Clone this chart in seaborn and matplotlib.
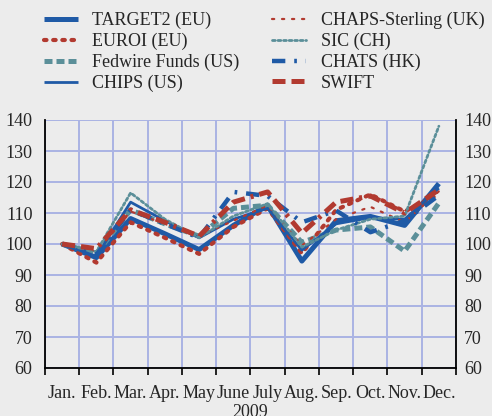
import matplotlib
matplotlib.use("Agg")
import matplotlib.pyplot as plt
from matplotlib import font_manager
import seaborn as sns
import pandas as pd
import numpy as np

months = ["Jan.", "Feb.", "Mar.", "Apr.", "May", "June", "July", "Aug.", "Sep.", "Oct.", "Nov.", "Dec."]
target2 = [100, 95.6, 108.2, 103.3, 98.2, 106, 112.5, 94.5, 107.5, 108.9, 106, 119.5]
euroi = [100, 94, 107, 102, 96.8, 105.5, 111.5, 97, 111, 116, 110.5, 116]
fedwire = [100, 97, 111, 106.5, 102.5, 111.5, 112.5, 100.5, 104.5, 105.5, 97.7, 113.2]
chips = [100, 96, 113.5, 107.5, 102, 108, 111.5, 98, 106.5, 108.5, 108, 118]
chaps = [100, 97.5, 110.5, 106.5, 102.5, 107.5, 112.5, 99.5, 108, 112, 107, 117]
sic = [100, 97.5, 116.5, 108, 102, 109, 113, 99, 104.5, 108, 109, 138]
chats = [100, 96.5, 111, 106.5, 102, 116.8, 115.5, 107, 110.8, 103.8, 107.5, 115.7]
swift = [100, 98.5, 111, 107, 102.5, 113.5, 116.8, 103.5, 113.5, 115.5, 110, 117.5]
year_label = "2009"

BLUE = "#1f5aa6"
RED = "#b23a30"
TEAL = "#5b8f99"
BG = "#ececec"
GRID = "#aab3e3"

series = [
    ("TARGET2 (EU)", target2, BLUE, 3.6, "-"),
    ("EUROI (EU)", euroi, RED, 3.0, (0, (0.6, 1.6))),
    ("Fedwire Funds (US)", fedwire, TEAL, 3.6, (0, (1.6, 0.8))),
    ("CHIPS (US)", chips, BLUE, 2.0, "-"),
    ("CHAPS-Sterling (UK)", chaps, RED, 1.6, (0, (1, 3.5))),
    ("SIC (CH)", sic, TEAL, 2.0, (0, (1, 1))),
    ("CHATS (HK)", chats, BLUE, 3.2, (0, (3, 2, 0.6, 2))),
    ("SWIFT", swift, RED, 3.6, (0, (2.6, 1.2, 2.6, 1.2, 0.6, 1.2))),
]

sns.set_theme(style="white")

# pick a Times-like serif font that is actually installed
font_path = None
for cand in ["Liberation Serif", "Times New Roman", "Nimbus Roman", "DejaVu Serif"]:
    try:
        font_path = font_manager.findfont(font_manager.FontProperties(family=cand), fallback_to_default=False)
        break
    except Exception:
        continue
if font_path is None:
    for f in font_manager.findSystemFonts():
        if "LiberationSerif-Regular" in f:
            font_path = f
            break
if font_path is not None:
    try:
        font_manager.fontManager.addfont(font_path)
    except Exception:
        pass
    fname = font_manager.FontProperties(fname=font_path).get_name()
else:
    fname = "DejaVu Serif"
plt.rcParams["font.family"] = [fname, "DejaVu Serif"]

FS = 13

fig = plt.figure(figsize=(4.92, 4.16), dpi=100, facecolor=BG)
ax = fig.add_axes([45 / 492, 1 - 368 / 416, (456 - 45) / 492, (368 - 120) / 416])
ax.set_facecolor(BG)

x = np.arange(len(months))
handles = []
for name, vals, col, lw, ls in series:
    df = pd.DataFrame({"x": x, "y": vals})
    sns.lineplot(data=df, x="x", y="y", ax=ax, color=col, linewidth=lw, label=name)
    ln = ax.lines[-1]
    ln.set_linestyle(ls)
    if name in ("EUROI (EU)", "CHAPS-Sterling (UK)", "SIC (CH)"):
        ln.set_dash_capstyle("round")
    else:
        ln.set_dash_capstyle("butt")
    ln.set_solid_capstyle("butt")
    handles.append(ln)

ax.get_legend().remove()

ax.set_xlim(-0.5, 11.5)
ax.set_ylim(60, 140)
ax.set_yticks(range(60, 141, 10))
ax.set_xticks(np.arange(-0.5, 12, 1))
ax.set_xticklabels([])
ax.set_xticks(x, minor=True)
ax.set_xticklabels(months, minor=True, fontsize=FS)
ax.tick_params(axis="x", which="major", length=5, width=1.2, color="black", direction="out", bottom=True)
ax.tick_params(axis="x", which="minor", length=0, pad=12)
ax.tick_params(axis="y", length=0, pad=9, labelsize=FS, left=False)
ax.set_xlabel(year_label, fontsize=FS, labelpad=1.5)
ax.set_ylabel("")

ax.grid(True, which="major", axis="both", color=GRID, linewidth=1.4)
ax.set_axisbelow(True)
for s in ["left", "right", "bottom"]:
    ax.spines[s].set_visible(True)
    ax.spines[s].set_color("black")
    ax.spines[s].set_linewidth(1.3)
ax.spines["top"].set_visible(False)

ax2 = ax.twinx()
ax2.set_ylim(60, 140)
ax2.set_yticks(range(60, 141, 10))
ax2.tick_params(axis="y", length=0, pad=6, labelsize=FS)
for s in ax2.spines.values():
    s.set_visible(False)
ax2.grid(False)

leg = fig.legend(handles=handles, labels=[s[0] for s in series], ncol=2,
                 loc="upper left", bbox_to_anchor=(44 / 492, 1 - 12 / 416),
                 frameon=False, fontsize=FS, handlelength=1.9,
                 columnspacing=1.8, labelspacing=0.2, handletextpad=0.78,
                 borderaxespad=0, borderpad=0)

fig.savefig("out.png", dpi=100, facecolor=BG)
